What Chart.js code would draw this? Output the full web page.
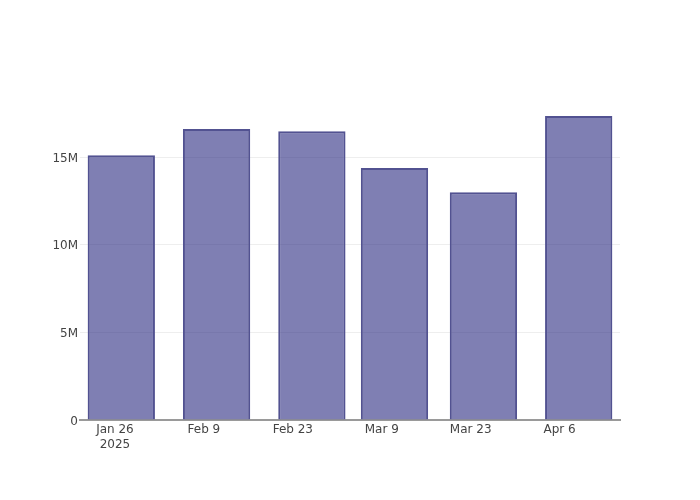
<!DOCTYPE html>
<html>
<head>
<meta charset="utf-8">
<script src="https://cdn.jsdelivr.net/npm/chart.js@4/dist/chart.umd.min.js"></script>
<style>
  html, body { margin: 0; padding: 0; background: #fff; }
  #wrap { width: 700px; height: 500px; }
</style>
</head>
<body>
<div id="wrap"><canvas id="barChart" width="700" height="500"></canvas></div>
<script>
// data
const barDates = ['2025-01-27', '2025-02-11', '2025-02-26', '2025-03-11', '2025-03-25', '2025-04-09'];
const barValues = [15.12e6, 16.62e6, 16.49e6, 14.39e6, 13.0e6, 17.36e6];
const tickDates = ['2025-01-26', '2025-02-09', '2025-02-23', '2025-03-09', '2025-03-23', '2025-04-06'];
const tickLabels = [['Jan 26', '2025'], 'Feb 9', 'Feb 23', 'Mar 9', 'Mar 23', 'Apr 6'];
const yTicks = [0, 5e6, 10e6, 15e6];
const yTickLabels = ['0', '5M', '10M', '15M'];

// x axis in days from the first tick date
const origin = Date.parse(tickDates[0]);
const toDay = d => (Date.parse(d) - origin) / 86400000;
const tickDays = tickDates.map(toDay);

const tickFont = { family: '"DejaVu Sans", sans-serif', size: 12 };

const ctx = document.getElementById('barChart').getContext('2d');
new Chart(ctx, {
    type: 'bar',
    data: {
        datasets: [{
            data: barDates.map((d, i) => ({ x: toDay(d), y: barValues[i] })),
            backgroundColor: 'rgba(42,42,128,0.6)',
            borderColor: 'rgb(82,82,145)',
            borderWidth: 2,
            barPercentage: 0.815,
            categoryPercentage: 1.0
        }]
    },
    options: {
        responsive: false,
        animation: false,
        layout: { padding: { top: 100, right: 80, left: 0, bottom: 0 } },
        plugins: { legend: { display: false }, tooltip: { enabled: false } },
        scales: {
            x: {
                type: 'linear',
                offset: false,
                min: -5.5,
                max: 79.5,
                afterBuildTicks: axis => { axis.ticks = tickDays.map(v => ({ value: v })); },
                afterFit: axis => { axis.height = 80; },
                grid: { display: false, offset: false, drawTicks: false },
                border: { display: true, color: '#9a9a9a', width: 2 },
                ticks: {
                    autoSkip: false,
                    maxRotation: 0,
                    padding: 3,
                    color: '#444',
                    font: tickFont,
                    callback: (v, i) => tickLabels[i]
                }
            },
            y: {
                min: 0,
                max: 18.27e6,
                afterBuildTicks: axis => { axis.ticks = yTicks.map(v => ({ value: v })); },
                afterFit: axis => { axis.width = 80; },
                grid: { color: '#eeeeee', lineWidth: 1, drawTicks: false },
                border: { display: false },
                ticks: {
                    padding: 2,
                    labelOffset: 1.5,
                    color: '#444',
                    font: tickFont,
                    callback: (v, i) => yTickLabels[i]
                }
            }
        }
    }
});
</script>
</body>
</html>
